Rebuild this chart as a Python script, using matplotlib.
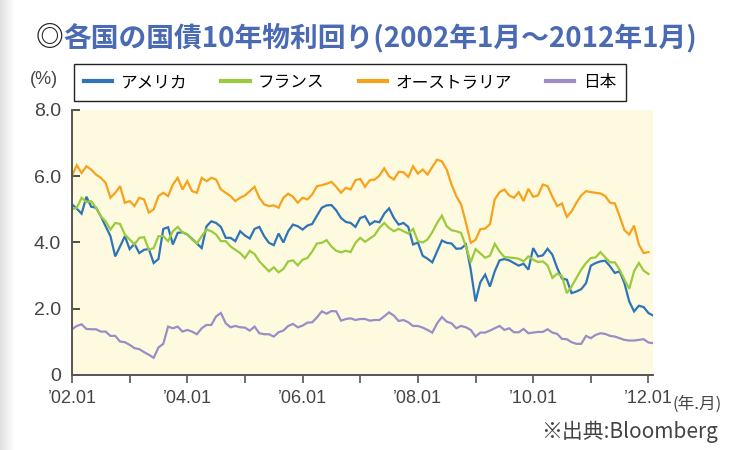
import numpy as np
import matplotlib
matplotlib.use("Agg")
import matplotlib.pyplot as plt

# 各国の国債10年物利回り (%), monthly from 2002.01
usa = [5.15, 5.02, 4.87, 5.38, 5.08, 5.05, 4.79, 4.49, 4.19, 3.58,
       3.88, 4.19, 3.80, 3.96, 3.68, 3.78, 3.80, 3.38, 3.50, 4.41,
       4.46, 3.94, 4.29, 4.31, 4.24, 4.11, 3.97, 3.83, 4.49, 4.64,
       4.59, 4.47, 4.14, 4.14, 4.04, 4.34, 4.21, 4.12, 4.41, 4.47,
       4.19, 3.99, 3.92, 4.27, 4.00, 4.34, 4.54, 4.49, 4.39, 4.51,
       4.56, 4.81, 5.05, 5.12, 5.13, 4.97, 4.74, 4.62, 4.59, 4.47,
       4.74, 4.79, 4.54, 4.64, 4.61, 4.87, 5.03, 4.74, 4.54, 4.59,
       4.47, 3.94, 4.00, 3.60, 3.51, 3.40, 3.73, 4.06, 3.99, 3.97,
       3.81, 3.82, 3.94, 3.18, 2.22, 2.80, 3.03, 2.67, 3.13, 3.46,
       3.50, 3.46, 3.38, 3.30, 3.36, 3.18, 3.83, 3.58, 3.61, 3.81,
       3.63, 3.23, 2.91, 2.88, 2.47, 2.52, 2.59, 2.77, 3.30, 3.38,
       3.43, 3.45, 3.28, 3.08, 3.13, 2.77, 2.22, 1.92, 2.09, 2.05,
       1.87, 1.79]
france = [5.00, 5.05, 5.35, 5.22, 5.25, 5.05, 4.79, 4.64, 4.39, 4.59,
          4.56, 4.24, 4.09, 3.94, 4.14, 4.16, 3.78, 3.83, 4.19, 4.19,
          4.04, 4.34, 4.47, 4.31, 4.24, 4.09, 3.97, 4.19, 4.39, 4.34,
          4.24, 4.04, 4.04, 3.88, 3.78, 3.68, 3.53, 3.75, 3.65, 3.43,
          3.28, 3.13, 3.25, 3.10, 3.20, 3.43, 3.46, 3.31, 3.48, 3.53,
          3.73, 3.97, 3.99, 4.07, 3.88, 3.75, 3.70, 3.75, 3.71, 3.99,
          4.14, 4.02, 4.12, 4.22, 4.44, 4.59, 4.44, 4.34, 4.41, 4.34,
          4.27, 4.41, 4.04, 4.00, 4.09, 4.31, 4.59, 4.81, 4.49, 4.37,
          4.34, 4.29, 3.88, 3.40, 3.80, 3.67, 3.54, 3.60, 3.96, 3.73,
          3.56, 3.55, 3.53, 3.51, 3.43, 3.58, 3.48, 3.41, 3.43, 3.31,
          2.93, 3.06, 2.98, 2.47, 2.67, 2.93, 3.18, 3.38, 3.53, 3.55,
          3.71, 3.55, 3.40, 3.40, 3.18, 2.88, 2.60, 3.13, 3.38, 3.15,
          3.05]
australia = [6.02, 6.33, 6.10, 6.30, 6.20, 6.05, 5.95, 5.80, 5.35, 5.50,
             5.70, 5.20, 5.25, 5.10, 5.35, 5.30, 4.90, 5.00, 5.40, 5.50,
             5.40, 5.75, 5.95, 5.60, 5.85, 5.55, 5.50, 5.95, 5.85, 5.95,
             5.90, 5.60, 5.50, 5.40, 5.25, 5.35, 5.42, 5.55, 5.68, 5.35,
             5.15, 5.10, 5.12, 5.05, 5.35, 5.47, 5.38, 5.20, 5.35, 5.30,
             5.45, 5.70, 5.73, 5.77, 5.83, 5.68, 5.50, 5.65, 5.60, 5.88,
             5.92, 5.68, 5.88, 5.90, 6.02, 6.24, 6.00, 5.90, 6.13, 6.12,
             5.98, 6.30, 6.08, 6.20, 6.05, 6.28, 6.50, 6.45, 6.20, 5.75,
             5.40, 5.15, 4.60, 3.99, 4.08, 4.40, 4.42, 4.55, 5.30, 5.52,
             5.60, 5.42, 5.35, 5.52, 5.25, 5.62, 5.38, 5.42, 5.75, 5.70,
             5.38, 5.10, 5.18, 4.77, 4.94, 5.20, 5.42, 5.55, 5.52, 5.50,
             5.48, 5.40, 5.20, 5.18, 4.79, 4.37, 4.24, 4.51, 3.94, 3.68,
             3.71]
japan = [1.38, 1.48, 1.53, 1.39, 1.38, 1.38, 1.31, 1.31, 1.18, 1.18,
         1.01, 0.99, 0.91, 0.81, 0.78, 0.69, 0.61, 0.52, 0.83, 0.94,
         1.46, 1.41, 1.46, 1.31, 1.36, 1.31, 1.23, 1.41, 1.51, 1.51,
         1.77, 1.87, 1.56, 1.44, 1.48, 1.44, 1.43, 1.34, 1.46, 1.26,
         1.23, 1.23, 1.16, 1.29, 1.34, 1.48, 1.54, 1.44, 1.49, 1.58,
         1.59, 1.74, 1.92, 1.85, 1.93, 1.92, 1.64, 1.69, 1.71, 1.66,
         1.69, 1.69, 1.64, 1.66, 1.66, 1.77, 1.89, 1.79, 1.63, 1.66,
         1.59, 1.48, 1.48, 1.43, 1.36, 1.28, 1.56, 1.75, 1.61, 1.56,
         1.41, 1.48, 1.44, 1.36, 1.16, 1.28, 1.28, 1.34, 1.41, 1.48,
         1.36, 1.41, 1.29, 1.29, 1.39, 1.26, 1.28, 1.30, 1.30, 1.38,
         1.28, 1.24, 1.09, 1.08, 0.99, 0.94, 0.94, 1.18, 1.11, 1.21,
         1.26, 1.24, 1.18, 1.16, 1.11, 1.06, 1.04, 1.04, 1.06, 1.08,
         0.98, 0.96]

series_names = ["アメリカ", "フランス", "オーストラリア", "日本"]
series_colors = ["#2e74b8", "#9acb3c", "#f7a21b", "#9d8cc6"]

year_ticks = list(range(0, 121, 12))
year_labels = ["’02.01", "", "’04.01", "", "’06.01", "", "’08.01", "",
               "’10.01", "", "’12.01"]
y_ticks = [0, 2, 4, 6, 8]
y_labels = ["0", "2.0", "4.0", "6.0", "8.0"]

CJK = ["Noto Sans CJK JP", "DejaVu Sans"]
NARROW = ["Liberation Sans Narrow", "Liberation Sans", "DejaVu Sans"]
GRAY = "#444444"

fig = plt.figure(figsize=(7.31, 4.5), dpi=100)

# faint grey shadow down the left edge
shade = fig.add_axes([0, 0, 0.02, 1])
shade.imshow(np.linspace(0.88, 1.0, 50)[None, :], cmap="gray", vmin=0, vmax=1,
             aspect="auto", extent=[0, 1, 0, 1])
shade.axis("off")

ax = fig.add_axes([0.0985, 0.1667, 0.7945, 0.5889])
ax.set_facecolor("#fefadf")

for vals, name, col in zip([usa, france, australia, japan],
                           series_names, series_colors):
    ax.plot(range(len(vals)), vals, color=col, lw=1.6, label=name,
            solid_joinstyle="miter")

ax.set_xlim(0, 120.9)
ax.set_ylim(0, 8)
for s in ["top", "right"]:
    ax.spines[s].set_visible(False)
for s in ["left", "bottom"]:
    ax.spines[s].set_color("#555555")
    ax.spines[s].set_linewidth(1.4)

ax.set_yticks(y_ticks)
ax.set_yticklabels(y_labels, family=NARROW, fontsize=14, color=GRAY)
ax.tick_params(axis="y", direction="in", length=6, width=1.2,
               color="#333333", pad=8)
ax.set_xticks(year_ticks)
ax.set_xticklabels(year_labels, family=NARROW, fontsize=13, color=GRAY)
ax.tick_params(axis="x", direction="out", length=6, width=1.2,
               color="#555555", pad=5)

fig.text(44 / 731, 1 - 80 / 450, "(%)", family=NARROW, fontsize=13,
         color=GRAY, ha="center", va="center")
fig.text(673 / 731, 1 - 404 / 450, "(年.月)", family=CJK, fontsize=12,
         color=GRAY, ha="left", va="center")
fig.text(718 / 731, 1 - 432 / 450, "※出典:Bloomberg", family=CJK,
         fontsize=15, color=GRAY, ha="right", va="center")

# title: black double circle, then blue text
fig.text(36 / 731, 1 - 38 / 450, "◎", family=CJK, fontsize=20,
         fontweight="bold", color="#222222", ha="left", va="center")
fig.text(63 / 731, 1 - 38 / 450, "各国の国債10年物利回り(2002年1月～2012年1月)",
         family=CJK, fontsize=20, fontweight="bold", color="#4a6ab4",
         ha="left", va="center")

leg = ax.legend(loc="upper left", bbox_to_anchor=(74 / 731, 1 - 64 / 450),
                bbox_transform=fig.transFigure, ncol=4, frameon=True,
                fancybox=False, edgecolor="#222222", framealpha=1,
                prop={"family": CJK, "size": 12}, handlelength=1.7,
                handletextpad=0.5, columnspacing=2.05, borderpad=0.6,
                borderaxespad=0)
leg.get_frame().set_linewidth(1.0)
for ln in leg.get_lines():
    ln.set_linewidth(3)

fig.savefig("out.png", dpi=100)
